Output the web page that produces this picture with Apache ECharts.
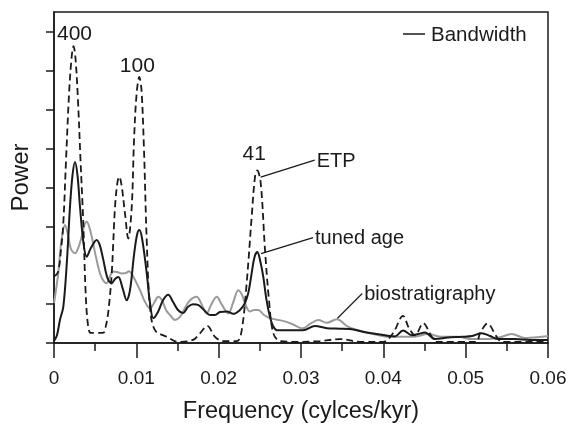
<!DOCTYPE html>
<html>
<head>
<meta charset="utf-8">
<script src="https://cdn.jsdelivr.net/npm/echarts@6/dist/echarts.min.js"></script>
<style>
  html, body { margin: 0; padding: 0; background: #fff; }
  #chart { width: 570px; height: 424px; }
</style>
</head>
<body>
<div id="chart"></div>
<script>
// Power spectra: ETP (dashed), tuned age (black), biostratigraphy (grey)
const etpFreq = [0, .00049, .00085, .00113, .00146, .00182, .00213, .00237, .00261, .00291, .00322, .00356, .00383, .00413, .00449,
  .00595, .00632, .00662, .00701, .00741, .00771, .00793, .0082, .00862, .00902, .00944, .00972, .01002, .01036, .01063, .01093,
  .01126, .01166, .01227, .01372, .01506, .01688, .01773, .01862, .01955, .02053, .02223, .0228, .0234, .02401, .02441, .02469,
  .02511, .02563, .02611, .02664, .02745, .02988, .03231, .03474, .03717, .03996, .04117, .04239, .04312, .04385, .04485, .04587,
  .04652, .05126, .05174, .05265, .05377, .05441, .06];
const etpPower = [1.71, 1.83, 2.4, 3.08, 4.7, 6.38, 7.33, 7.64, 7.33, 6.25, 4.71, 3.08, 1.36, 0.46, 0.26,
  0.26, 0.46, 0.85, 1.79, 3.5, 4.14, 4.28, 4.07, 3.34, 2.69, 3.5, 5.22, 6.38, 6.85, 6.5, 4.97,
  2.65, 0.93, 0.33, 0.16, 0.03, 0.08, 0.25, 0.44, 0.16, 0.05, 0.05, 0.33, 1.54, 3.25, 4.27, 4.44,
  4.11, 2.39, 1.11, 0.25, 0.05, 0.03, 0.05, 0.1, 0.03, 0.03, 0.25, 0.7, 0.38, 0.2, 0.51, 0.16,
  0.03, 0.03, 0.25, 0.5, 0.16, 0.03, 0.03];

const tunedFreq = [0, .00036, .00073, .00113, .00158, .00194, .00225, .00255, .00285, .00316, .00358, .00397, .00449, .00519,
  .00559, .00599, .0065, .00701, .00741, .00781, .00832, .00883, .00923, .00972, .01008, .01036, .01069, .01126, .01166, .01206,
  .01263, .01324, .01388, .01445, .01506, .01567, .01628, .01688, .01749, .01822, .01895, .01955, .02016, .02098, .02178, .02259,
  .0232, .02362, .02401, .02435, .02469, .02508, .02542, .02581, .02623, .0266, .02708, .02866, .03024, .0317, .03316, .03474,
  .03595, .03753, .03923, .04081, .04142, .04239, .04348, .04421, .04506, .04628, .04785, .04952, .05077, .05195, .05296, .05393,
  .05599, .05781, .06];
const tunedPower = [0.05, 0.2, 0.6, 0.93, 2.14, 3.5, 4.32, 4.66, 4.32, 3.5, 2.57, 2.22, 2.45, 2.65,
  2.5, 2.14, 1.67, 1.54, 1.65, 1.7, 1.42, 1.1, 1.36, 2.27, 2.78, 2.91, 2.7, 1.8, 1.03, 0.64,
  0.8, 1.1, 1.24, 1.06, 0.85, 0.77, 0.93, 1.0, 0.98, 0.85, 0.72, 0.72, 0.8, 0.81, 0.75, 0.85,
  1.03, 1.31, 1.8, 2.21, 2.34, 2.08, 1.7, 1.11, 0.67, 0.44, 0.33, 0.33, 0.33, 0.44, 0.38, 0.37,
  0.36, 0.29, 0.23, 0.18, 0.17, 0.32, 0.2, 0.23, 0.27, 0.1, 0.14, 0.16, 0.18, 0.25, 0.18, 0.1,
  0.1, 0.08, 0.08];

const bioFreq = [0, .00024, .00052, .00091, .00134, .0017, .00206, .00255, .00298, .00336, .0037, .00397, .00425, .00458, .0051,
  .00559, .00601, .0064, .0068, .0072, .00765, .00822, .00874, .00911, .00944, .00984, .01045, .01105, .01166, .01215, .01267,
  .01312, .0136, .01409, .0147, .0153, .01591, .01652, .01733, .01785, .01855, .01907, .01976, .0204, .02117, .02174, .02238,
  .02283, .0232, .0238, .02429, .02481, .02551, .02623, .02781, .02891, .02988, .03024, .03109, .0321, .03312, .03434, .03571,
  .03692, .03838, .04081, .0436, .04542, .04709, .04907, .05073, .05271, .05417, .05559, .05721, .05923, .06];
const bioPower = [1.03, 1.36, 1.8, 2.65, 3.04, 2.78, 2.42, 2.31, 2.47, 2.74, 3.04, 3.12, 3.01, 2.74, 2.21,
  1.79, 1.6, 1.54, 1.72, 1.84, 1.83, 1.79, 1.8, 1.85, 1.78, 1.62, 1.36, 1.06, 0.89, 1.03, 1.19,
  1.1, 0.85, 0.72, 0.59, 0.67, 0.9, 1.1, 1.19, 1.03, 0.76, 0.98, 1.19, 0.98, 0.76, 1.03, 1.36,
  1.24, 1.02, 0.81, 0.85, 0.85, 0.72, 0.64, 0.57, 0.49, 0.39, 0.38, 0.49, 0.59, 0.52, 0.61, 0.42,
  0.33, 0.25, 0.16, 0.16, 0.23, 0.16, 0.16, 0.1, 0.1, 0.15, 0.23, 0.13, 0.16, 0.18];

const powerTicks = [0, 1, 2, 3, 4, 5, 6, 7, 8];
const periodLabels = ['400', '100', '41'];

const FONT = '"Liberation Sans", Arial, Helvetica, sans-serif';
const INK = '#1a1a1a';
const zip = (f, p) => f.map((v, i) => [v, p[i]]);

const chart = echarts.init(document.getElementById('chart'), null, { renderer: 'canvas' });

chart.setOption({
  animation: false,
  grid: {
    left: 54, right: 22, top: 12, bottom: 81,
    outerBoundsMode: 'none', containLabel: false,
    show: true, borderColor: INK, borderWidth: 1.5
  },
  xAxis: {
    type: 'value', min: 0, max: 0.06, interval: 0.01,
    axisLine: { lineStyle: { color: INK, width: 1.5 } },
    axisTick: { length: 15, lineStyle: { color: INK, width: 1.5 } },
    minorTick: { show: true, splitNumber: 2, length: 8, lineStyle: { color: INK, width: 1.5 } },
    splitLine: { show: false },
    axisLabel: {
      fontSize: 19, color: INK, fontFamily: FONT, margin: 26,
      formatter: v => (v === 0 ? '0' : v.toFixed(2))
    },
    name: 'Frequency (cylces/kyr)', nameLocation: 'middle', nameGap: 57,
    nameTextStyle: { fontSize: 23.5, color: INK, fontFamily: FONT }
  },
  yAxis: {
    type: 'value', min: 0, max: 8.52, interval: 1,
    axisLine: { show: true, lineStyle: { color: INK, width: 1.5 } },
    axisTick: { show: true, length: 8, customValues: powerTicks, lineStyle: { color: INK, width: 1.5 } },
    axisLabel: { show: false },
    splitLine: { show: false },
    name: 'Power', nameLocation: 'middle', nameGap: 21,
    nameTextStyle: { fontSize: 24, color: INK, fontFamily: FONT }
  },
  series: [
    {
      name: 'biostratigraphy', type: 'line', data: zip(bioFreq, bioPower),
      smooth: 0.35, showSymbol: false, lineStyle: { color: '#9a9a9a', width: 2 }, z: 2
    },
    {
      name: 'ETP', type: 'line', data: zip(etpFreq, etpPower),
      smooth: 0.35, showSymbol: false, lineStyle: { color: INK, width: 1.8, type: [7, 4] }, z: 3
    },
    {
      name: 'tuned age', type: 'line', data: zip(tunedFreq, tunedPower),
      smooth: 0.35, showSymbol: false, lineStyle: { color: INK, width: 2 }, z: 4
    }
  ]
});

// Annotations: period labels above the ETP peaks, leader lines to series names
const toPx = (f, p) => chart.convertToPixel({ gridIndex: 0 }, [f, p]);
const peakIdx = [7, 28, 46];
const peakOffsets = [[1, -12], [-2, -11], [-3, -16]];
const textStyle = (extra) => Object.assign({ fontSize: 20, fill: INK, fontFamily: FONT }, extra);

const graphics = [];
peakIdx.forEach((idx, i) => {
  const p = toPx(etpFreq[idx], etpPower[idx]);
  graphics.push({
    type: 'text', x: p[0] + peakOffsets[i][0], y: p[1] + peakOffsets[i][1],
    style: textStyle({ text: periodLabels[i], align: 'center', verticalAlign: 'middle', fontSize: 21 })
  });
});

function leader(from, to, label) {
  graphics.push({
    type: 'line', shape: { x1: from[0], y1: from[1], x2: to[0], y2: to[1] },
    style: { stroke: INK, lineWidth: 1.2 }
  });
  graphics.push({
    type: 'text', x: to[0] + 2, y: to[1] + 1,
    style: textStyle({ text: label, align: 'left', verticalAlign: 'middle' })
  });
}
const etpStart = toPx(0.0251, 4.27);
leader(etpStart, [etpStart[0] + 54, etpStart[1] - 17], 'ETP');
const tunedStart = toPx(0.02515, 2.3);
leader(tunedStart, [tunedStart[0] + 52, tunedStart[1] - 16], 'tuned age');
const bioStart = toPx(0.0344, 0.63);
leader(bioStart, [bioStart[0] + 25, bioStart[1] - 25], 'biostratigraphy');

// Bandwidth key
graphics.push({ type: 'line', shape: { x1: 403, y1: 34, x2: 425, y2: 34 }, style: { stroke: INK, lineWidth: 1.5 } });
graphics.push({ type: 'text', x: 431, y: 35, style: textStyle({ text: 'Bandwidth', align: 'left', verticalAlign: 'middle', fontSize: 20.5 }) });

chart.setOption({ graphic: graphics });
</script>
</body>
</html>
